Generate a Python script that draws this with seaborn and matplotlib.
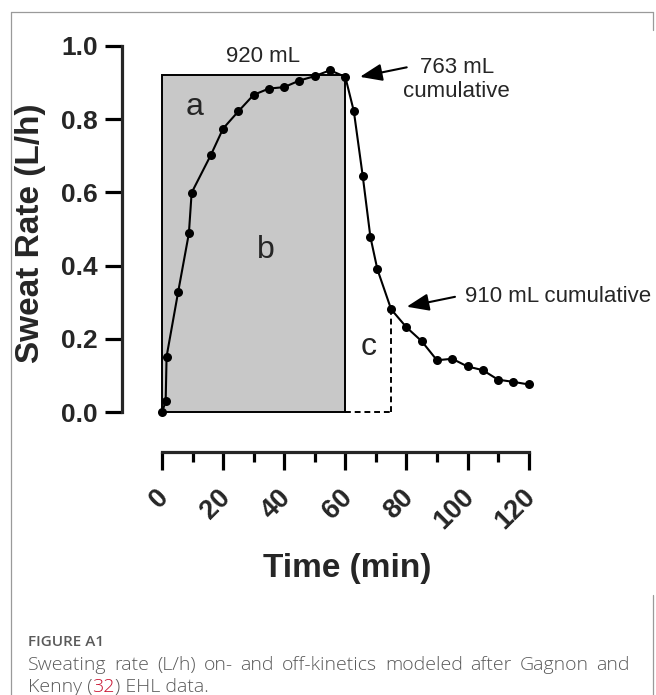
import pandas as pd
import matplotlib
matplotlib.use('Agg')
import matplotlib.pyplot as plt
import matplotlib.transforms as mtransforms
from matplotlib.patches import Rectangle
from matplotlib.lines import Line2D
from matplotlib.ticker import MultipleLocator, FormatStrFormatter
import seaborn as sns

# sweat rate readings (L/h) over time (min)
time_min = [0, 1.2, 1.5, 5.3, 8.8, 9.7, 16, 20, 25, 30, 35, 40, 45, 50, 55, 60,
            62.8, 65.7, 68.2, 70.5, 75, 80, 85, 90, 95, 100, 105, 110, 115, 120]
sweat_rate = [0.0, 0.03, 0.152, 0.329, 0.488, 0.599, 0.702, 0.774, 0.821, 0.866,
              0.883, 0.887, 0.905, 0.917, 0.933, 0.915, 0.821, 0.645, 0.479, 0.390,
              0.281, 0.232, 0.194, 0.142, 0.146, 0.125, 0.115, 0.089, 0.083, 0.076]

exercise_end = 60      # min
plateau_rate = 0.92    # L/h -> 920 mL over 60 min
cutoff_time = 75       # min, 910 mL cumulative
cutoff_rate = 0.281

x_ticks = [0, 20, 40, 60, 80, 100, 120]
y_ticks = [0.0, 0.2, 0.4, 0.6, 0.8, 1.0]

caption_title = 'FIGURE A1'
caption_line1 = 'Sweating rate (L/h) on- and off-kinetics modeled after Gagnon and'
caption_line2 = ['Kenny (', '32', ') EHL data.']

sns.set_style('ticks')
plt.rcParams['font.family'] = ['Liberation Sans', 'DejaVu Sans']

W, H = 656, 695
fig = plt.figure(figsize=(W / 100, H / 100), dpi=100)


def fx(px):
    return px / W


def fy(py):
    return (H - py) / H


ax = fig.add_axes([fx(162), fy(412.3), 366.6 / W, 366.6 / H])

df = pd.DataFrame({'Time (min)': time_min, 'Sweat Rate (L/h)': sweat_rate})

ax.add_patch(Rectangle((0, 0), exercise_end, plateau_rate, facecolor='#c8c8c8',
                       edgecolor='black', lw=1.4, zorder=1, clip_on=False))
ax.plot([cutoff_time, cutoff_time], [0, cutoff_rate], ls=(0, (3, 2)), color='black',
        lw=1.4, zorder=2, clip_on=False)
ax.plot([exercise_end, cutoff_time], [0, 0], ls=(0, (3, 2)), color='black',
        lw=1.4, zorder=2, clip_on=False)

sns.lineplot(data=df, x='Time (min)', y='Sweat Rate (L/h)', ax=ax, color='black',
             lw=1.5, marker='o', markersize=6.5, markeredgewidth=0, clip_on=False,
             zorder=3)

ax.set_xlim(0, 120)
ax.set_ylim(0, 1.0)

for side in ['top', 'right']:
    ax.spines[side].set_visible(False)
ax.spines['left'].set_position(('outward', 28.8))
ax.spines['bottom'].set_position(('outward', 28.4))
ax.spines['left'].set_linewidth(2.3)
ax.spines['bottom'].set_linewidth(2.3)
ax.spines['left'].set_bounds(0, 1.0)
ax.spines['bottom'].set_bounds(0, 120)

ax.set_xticks(x_ticks)
ax.set_yticks(y_ticks)
ax.xaxis.set_minor_locator(MultipleLocator(10))
ax.yaxis.set_major_formatter(FormatStrFormatter('%.1f'))
ax.tick_params(axis='y', which='major', length=12.5, width=2.3, pad=4.7,
               labelsize=19, color='black')
ax.tick_params(axis='x', which='major', length=13, width=2.3, pad=17,
               labelsize=19.5, color='black')
ax.tick_params(axis='x', which='minor', length=7, width=2.3, color='black')
for lab in ax.get_yticklabels():
    lab.set_fontweight('bold')
shift = mtransforms.ScaledTranslation(3 / 100, 0, fig.dpi_scale_trans)
for lab in ax.get_xticklabels():
    lab.set_fontweight('bold')
    lab.set_rotation(45)
    lab.set_ha('right')
    lab.set_va('center')
    lab.set_rotation_mode('anchor')
    lab.set_transform(lab.get_transform() + shift)

ax.set_xlabel('Time (min)', fontsize=24, fontweight='bold', va='center')
ax.set_ylabel('Sweat Rate (L/h)', fontsize=24, fontweight='bold', va='center')
ax.xaxis.set_label_coords(0.505, -0.426)
ax.yaxis.set_label_coords(-0.360, 0.488)

# region labels and annotations
ax.text(33.1, 0.955, '920 mL', fontsize=16, ha='center', va='baseline')
ax.text(10.5, 0.811, 'a', fontsize=23, ha='center', va='baseline')
ax.text(34, 0.420, 'b', fontsize=23, ha='center', va='baseline')
ax.text(67.6, 0.156, 'c', fontsize=23, ha='center', va='baseline')

arrow = dict(arrowstyle='-|>,head_length=0.9,head_width=0.35', color='black',
             lw=1.5, mutation_scale=15, shrinkA=0, shrinkB=0)
ax.annotate('', xy=(64.8, 0.915), xytext=(80.1, 0.941), arrowprops=arrow,
            annotation_clip=False)
ax.annotate('', xy=(80.1, 0.288), xytext=(95.9, 0.315), arrowprops=arrow,
            annotation_clip=False)
ax.text(96.5, 0.925, '763 mL', fontsize=16, ha='center', va='baseline')
ax.text(96.5, 0.859, 'cumulative', fontsize=16, ha='center', va='baseline')
ax.text(99.2, 0.302, '910 mL cumulative', fontsize=16, ha='left', va='baseline')

# frame around figure panel
border = dict(color='#9a9a9a', lw=0.9, transform=fig.transFigure)
fig.add_artist(Line2D([fx(11), fx(11)], [fy(12), fy(H)], **border))
fig.add_artist(Line2D([fx(11), fx(653)], [fy(12), fy(12)], **border))
fig.add_artist(Line2D([fx(653), fx(653)], [fy(12), fy(30)], **border))
fig.add_artist(Line2D([fx(653), fx(653)], [fy(595), fy(H)], **border))

# caption
cap_font = ['Open Sans', 'DejaVu Sans']
cap_grey = '#5a5a5a'
cap_style = dict(fontsize=14, fontweight='light', color=cap_grey, family=cap_font,
                 va='baseline')
fig.text(fx(28), fy(646), caption_title, fontsize=11, fontweight='semibold',
         color=cap_grey, family=cap_font, va='baseline')

# first caption line is justified between 28 px and 630 px
renderer = fig.canvas.get_renderer()
words = caption_line1.split(' ')
word_texts = [fig.text(0, fy(670), w, **cap_style) for w in words]
widths = [t.get_window_extent(renderer).width for t in word_texts]
gap = (630 - 28 - sum(widths)) / (len(words) - 1)
x = 28
for t, w in zip(word_texts, widths):
    t.set_x(fx(x))
    x += w + gap

t1 = fig.text(fx(28), fy(692), caption_line2[0], **cap_style)
t2 = ax.annotate(caption_line2[1], xy=(1, 0), xycoords=t1, va='bottom', ha='left',
                 fontsize=14, fontweight='light', color='#c8102e', family=cap_font,
                 annotation_clip=False)
ax.annotate(caption_line2[2], xy=(1, 0), xycoords=t2, va='bottom', ha='left',
            fontsize=14, fontweight='light', color=cap_grey, family=cap_font,
            annotation_clip=False)

fig.savefig('out.png', dpi=100)
